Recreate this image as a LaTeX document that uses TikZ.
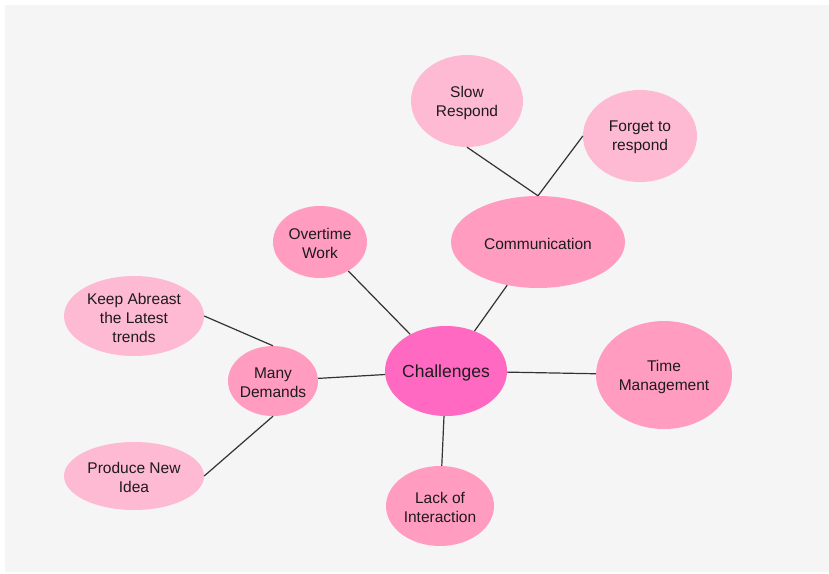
\documentclass[tikz,border=0pt]{standalone}
\usepackage{fontspec}
\setmainfont{Liberation Sans}
\usetikzlibrary{shapes.geometric}
\definecolor{bg}{HTML}{F5F5F5}
\definecolor{hub}{HTML}{FF69C2}
\definecolor{mid}{HTML}{FF9CC0}
\definecolor{leaf}{HTML}{FFBAD3}
\definecolor{ink}{HTML}{1E1A1E}
\definecolor{edge}{HTML}{333333}
\tikzset{
  bubble/.style n args={3}{ellipse, inner sep=0pt, fill=#1, draw=none,
    minimum width=#2, minimum height=#3},
  txt/.style={font=\fontsize{15.5}{19}\selectfont, text=ink, align=center, yshift=-1.5pt},
  link/.style={draw=edge, line width=1.2pt}
}
\begin{document}
\begin{tikzpicture}[x=1pt,y=-1pt]
\useasboundingbox (0,0) rectangle (829,573);
\fill[bg] (5,5) rectangle (829,572);

\node[bubble={hub}{122pt}{90pt}, label={[txt, font=\fontsize{17.5}{20}\selectfont]center:Challenges}] (ch) at (446,371) {};
\node[bubble={mid}{174pt}{92pt}, label={[txt]center:Communication}] (comm) at (538,242) {};
\node[bubble={leaf}{112pt}{92pt}, label={[txt]center:{Slow\\Respond}}] (slow) at (467,101) {};
\node[bubble={leaf}{114pt}{92pt}, label={[txt]center:{Forget to\\respond}}] (forget) at (640,136) {};
\node[bubble={mid}{94pt}{72pt}, label={[txt]center:{Overtime\\Work}}] (ot) at (320,242) {};
\node[bubble={mid}{90pt}{70pt}, label={[txt]center:{Many\\Demands}}] (md) at (273,381) {};
\node[bubble={leaf}{140pt}{80pt}, label={[txt]center:{Keep Abreast\\the Latest\\trends}}] (keep) at (134,316) {};
\node[bubble={leaf}{140pt}{68pt}, label={[txt]center:{Produce New\\Idea}}] (idea) at (134,476) {};
\node[bubble={mid}{136pt}{108pt}, label={[txt]center:{Time\\Management}}] (tm) at (664,375) {};
\node[bubble={mid}{108pt}{80pt}, label={[txt]center:{Lack of\\Interaction}}] (lack) at (440,506) {};

\draw[link] (ch) -- (comm);
\draw[link] (ch) -- (ot);
\draw[link] (ch) -- (md);
\draw[link] (ch) -- (tm);
\draw[link] (ch) -- (lack);
\draw[link] (comm.north) -- (slow.south);
\draw[link] (comm.north) -- (forget.west);
\draw[link] (md.north) -- (keep.east);
\draw[link] (md.south) -- (idea.east);
\end{tikzpicture}
\end{document}
